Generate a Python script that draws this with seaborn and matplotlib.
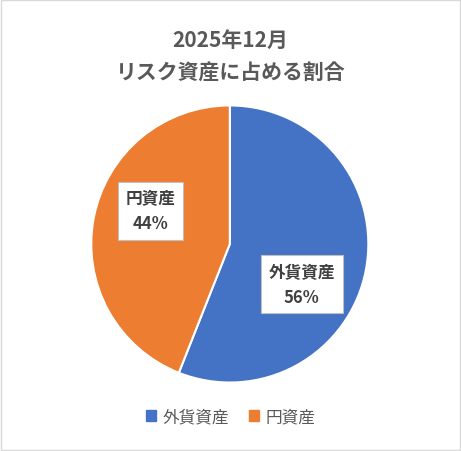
import matplotlib
matplotlib.use("Agg")
import matplotlib.pyplot as plt
import seaborn as sns
from matplotlib.patches import Patch

sns.set_theme(style="white")
plt.rcParams['font.family'] = ['Noto Sans CJK JP', 'DejaVu Sans']

labels = ['外貨資産', '円資産']
values = [56, 44]
colors = ['#4472C4', '#ED7D31']
title = '2025年12月\nリスク資産に占める割合'

fig = plt.figure(figsize=(4.61, 4.52), dpi=100)
ax = fig.add_axes([0.195, 0.148, 0.607, 0.62])
wedges, _ = ax.pie(values, colors=colors, startangle=90, counterclock=False,
                   wedgeprops=dict(edgecolor='white', linewidth=1.5))
ax.set_xlim(-1.01, 1.01)
ax.set_ylim(-1.01, 1.01)
ax.set_aspect('equal')

# callout labels
label_pos = [(0.52, -0.29), (-0.57, 0.24)]
for lab, v, (x, y) in zip(labels, values, label_pos):
    ax.text(x, y, f'{lab}\n{v}%', ha='center', va='center', fontsize=12,
            color='#404040', fontweight='bold', linespacing=1.5,
            bbox=dict(boxstyle='square,pad=0.45', fc='white', ec='#BFBFBF', lw=0.8))

fig.text(0.5, 0.875, title, ha='center', va='center', fontsize=15,
         fontweight='bold', color='#595959', linespacing=1.7)

handles = [Patch(color=c, label=l) for c, l in zip(colors, labels)]
fig.legend(handles=handles, loc='center', bbox_to_anchor=(0.5, 0.075), ncol=2,
           frameon=False, fontsize=12, handlelength=0.6, handleheight=0.6,
           columnspacing=1.2, handletextpad=0.4, labelcolor='#595959')

fig.patches.append(plt.Rectangle((0.002, 0.002), 0.996, 0.996, transform=fig.transFigure,
                                 fill=False, ec='#D9D9D9', lw=1))
fig.savefig('out.png', dpi=100, facecolor='white')
